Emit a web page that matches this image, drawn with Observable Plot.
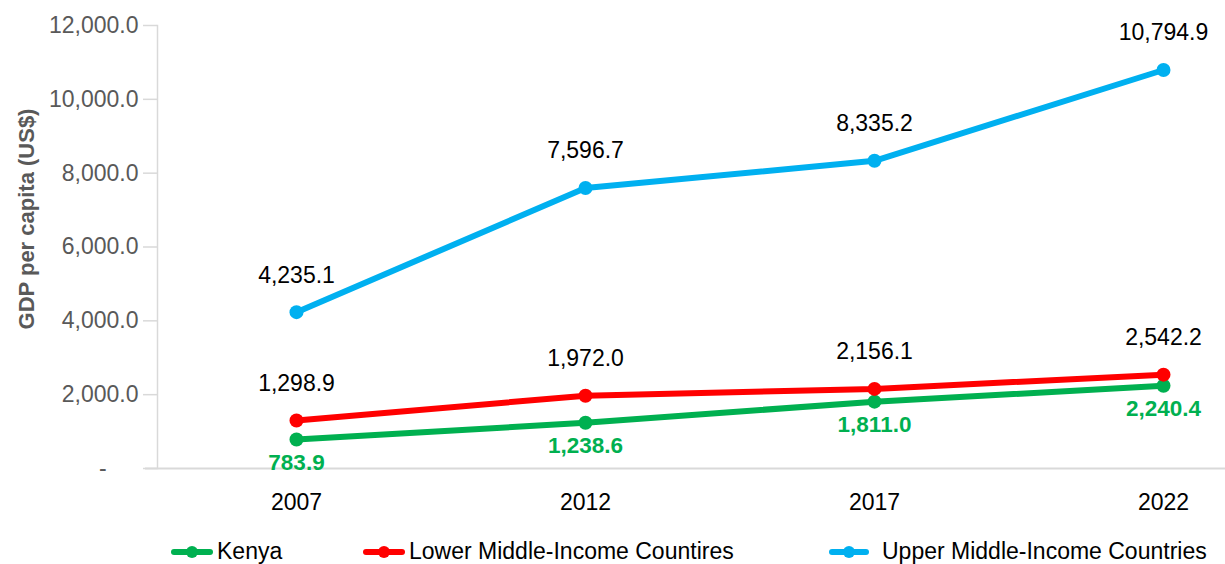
<!DOCTYPE html>
<html>
<head>
<meta charset="utf-8">
<script src="https://cdn.jsdelivr.net/npm/d3@7"></script>
<script src="https://cdn.jsdelivr.net/npm/@observablehq/plot@0.6"></script>
<style>
  html, body { margin: 0; padding: 0; background: #fff; }
  body { width: 1225px; height: 564px; overflow: hidden; font-family: "Liberation Sans", Arial, sans-serif; }
  #chart { position: relative; width: 1225px; }
  #legend { position: relative; width: 1225px; height: 39px; }
  .item { position: absolute; top: 13px; display: flex; align-items: center; font-size: 23px; color: #000; }
  .item svg { display: block; margin-right: 3px; }
</style>
</head>
<body>
<div id="chart"></div>
<div id="legend"></div>
<script>
const years = [2007, 2012, 2017, 2022];
const kenya = [783.9, 1238.6, 1811.0, 2240.4];
const lowerMiddle = [1298.9, 1972.0, 2156.1, 2542.2];
const upperMiddle = [4235.1, 7596.7, 8335.2, 10794.9];
const seriesNames = ["Kenya", "Lower Middle-Income Countires", "Upper Middle-Income Countries"];
const seriesColors = ["#00B050", "#FF0000", "#00B0F0"];
const yTicks = [0, 2000, 4000, 6000, 8000, 10000, 12000];
const yTitle = "GDP per capita (US$)";

const table = [];
[kenya, lowerMiddle, upperMiddle].forEach((vals, s) => {
  vals.forEach((v, i) => table.push({series: seriesNames[s], year: years[i], value: v}));
});
const kenyaRows = table.filter(d => d.series === seriesNames[0]);
const otherRows = table.filter(d => d.series !== seriesNames[0]);
const fmt = d3.format(",.1f");

const chart = Plot.plot({
  width: 1225,
  height: 525,
  marginLeft: 157,
  marginRight: 0,
  marginTop: 25,
  marginBottom: 57,
  style: {fontFamily: "'Liberation Sans', Arial, sans-serif", background: "#fff", overflow: "visible"},
  x: {type: "linear", domain: [2007, 2022], range: [296, 1163]},
  y: {domain: [0, 12000]},
  color: {domain: seriesNames, range: seriesColors},
  marks: [
    Plot.frame({anchor: "left", stroke: "#d9d9d9", strokeWidth: 1.5}),
    Plot.ruleY([0], {stroke: "#d9d9d9", strokeWidth: 2, insetLeft: -12}),
    Plot.axisY({ticks: yTicks, tickSize: 14, text: null, stroke: "#d9d9d9", strokeWidth: 1.5, label: null}),
    Plot.axisY({ticks: yTicks, tickSize: 0, tickPadding: 19, fontSize: 23, color: "#595959",
      tickFormat: d => d === 0 ? "-\u00A0\u00A0\u00A0\u00A0\u00A0" : fmt(d), label: null}),
    Plot.axisX({ticks: years, tickSize: 0, tickPadding: 25, fontSize: 23, color: "#000", tickFormat: d => String(d), label: null}),
    Plot.text([yTitle], {frameAnchor: "left", textAnchor: "middle", rotate: -90, dx: -131, dy: -28, fontSize: 22, fontWeight: "bold", fill: "#595959"}),
    Plot.line(table, {x: "year", y: "value", z: "series", stroke: "series", strokeWidth: 6, strokeLinecap: "round"}),
    Plot.dot(table, {x: "year", y: "value", fill: "series", r: 7}),
    Plot.text(otherRows, {x: "year", y: "value", text: d => fmt(d.value), dy: -37, fontSize: 23, fill: "#000"}),
    Plot.text(kenyaRows, {x: "year", y: "value", text: d => fmt(d.value), dy: 23, fontSize: 22.5, fontWeight: "bold", fill: seriesColors[0]})
  ]
});
document.getElementById("chart").appendChild(chart);

const legend = document.getElementById("legend");
const legendLeft = [170, 362, 828];
seriesNames.forEach((name, i) => {
  const item = document.createElement("div");
  item.className = "item";
  item.style.left = legendLeft[i] + "px";
  const w = i === 2 ? 42 : 44;
  item.innerHTML = `<svg width="${w}" height="14"><line x1="4" y1="7" x2="${w-4}" y2="7" stroke="${seriesColors[i]}" stroke-width="6" stroke-linecap="round"/><circle cx="${w/2}" cy="7" r="6" fill="${seriesColors[i]}"/></svg>`;
  const span = document.createElement("span");
  span.textContent = name;
  if (i === 2) span.style.marginLeft = "9px";
  item.appendChild(span);
  legend.appendChild(item);
});
</script>
</body>
</html>
